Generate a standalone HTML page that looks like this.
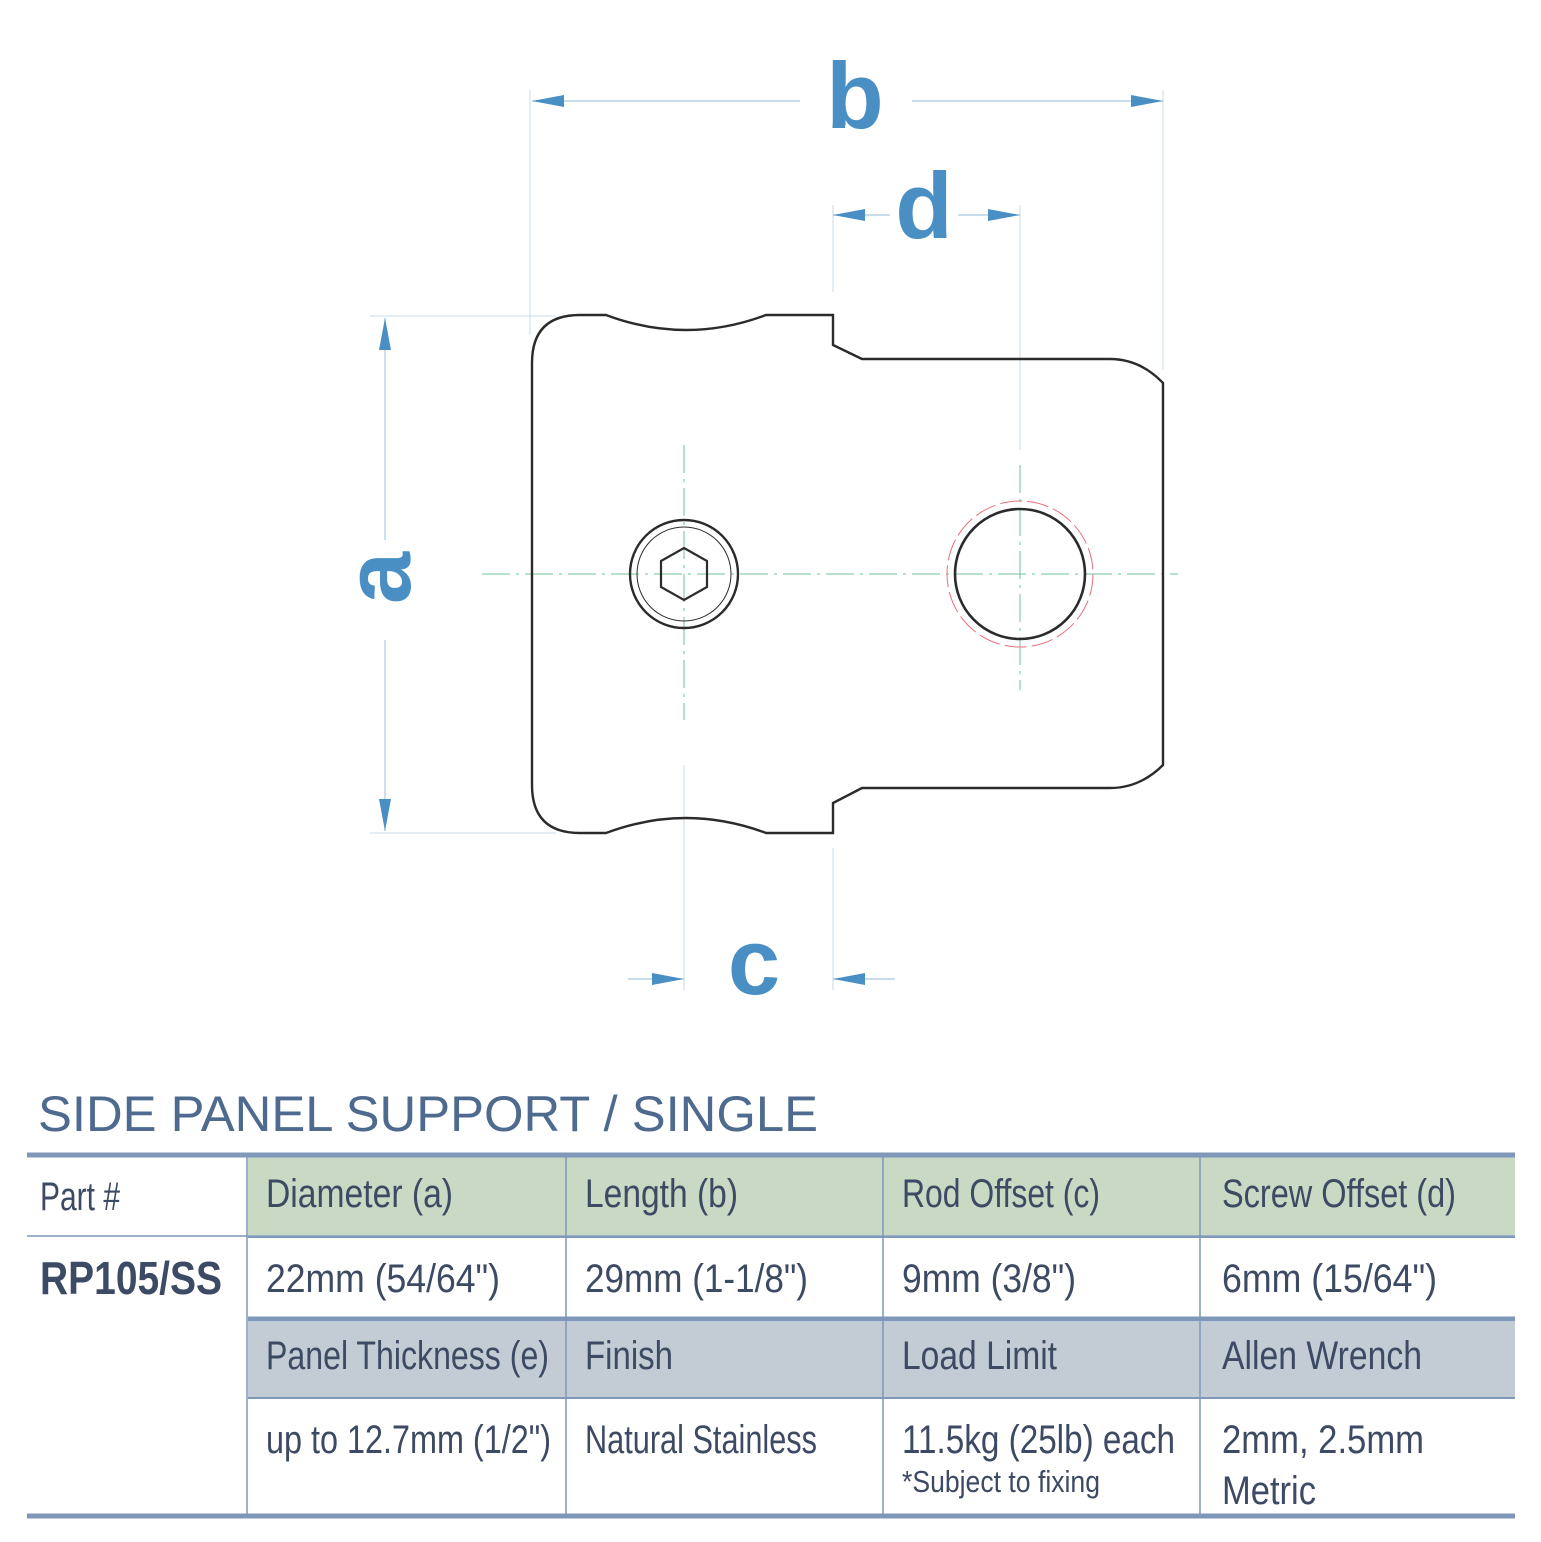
<!DOCTYPE html>
<html><head><meta charset="utf-8"><style>
html,body{margin:0;padding:0;background:#fff;}
svg{display:block}
.t{font-family:"Liberation Sans",sans-serif;fill:#3d4a63;}
</style></head><body>
<svg width="1541" height="1542" viewBox="0 0 1541 1542" xmlns="http://www.w3.org/2000/svg">
<g stroke="#c9dbe8" stroke-width="1" fill="none">
<line x1="530" y1="90" x2="530" y2="335"/>
<line x1="1163" y1="90" x2="1163" y2="370"/>
<line x1="833" y1="205" x2="833" y2="292"/>
<line x1="1020" y1="205" x2="1020" y2="450"/>
<line x1="370" y1="316" x2="556" y2="316"/>
<line x1="370" y1="833" x2="556" y2="833"/>
<line x1="684" y1="765" x2="684" y2="990"/>
<line x1="833" y1="848" x2="833" y2="990"/>
</g>
<g stroke="#a9c8de" stroke-width="1.2" fill="none">
<line x1="532" y1="101" x2="800" y2="101"/><line x1="912" y1="101" x2="1163" y2="101"/>
<line x1="833" y1="215" x2="890" y2="215"/><line x1="958" y1="215" x2="1020" y2="215"/>
<line x1="385" y1="318" x2="385" y2="540"/><line x1="385" y1="640" x2="385" y2="831"/>
<line x1="628" y1="979" x2="684" y2="979"/><line x1="833" y1="979" x2="895" y2="979"/>
</g>
<g fill="#4a8fc4">
<polygon points="532,101 564,95 564,107"/><polygon points="1163,101 1131,95 1131,107"/>
<polygon points="833,215 865,209 865,221"/><polygon points="1020,215 988,209 988,221"/>
<polygon points="385,318 379,350 391,350"/><polygon points="385,831 379,799 391,799"/>
<polygon points="684,979 652,973 652,985"/><polygon points="833,979 865,973 865,985"/>
</g>
<g font-family="'Liberation Sans',sans-serif" font-weight="bold" fill="#4a8fc4" font-size="94">
<text x="855" y="128" text-anchor="middle">b</text>
<text x="924" y="238" text-anchor="middle">d</text>
<text x="754" y="994" text-anchor="middle">c</text>
<text x="0" y="0" text-anchor="middle" transform="translate(410,578) rotate(-90)">a</text>
</g>
<g stroke="#6cc49a" stroke-width="1" fill="none" stroke-dasharray="28,6,3,6">
<line x1="482" y1="574" x2="1178" y2="574"/>
<line x1="684" y1="445" x2="684" y2="720"/>
<line x1="1020" y1="465" x2="1020" y2="690"/>
</g>
<path d="M580,315 L606,315 Q686,345 766,315 L833,315 L833,345 L862,359 L1110,359 Q1140,359 1163,383 L1163,765 Q1140,788 1110,788 L862,788 L833,803 L833,833 L766,833 Q686,803 606,833 L580,833 Q532,833 532,785 L532,363 Q532,315 580,315 Z" fill="none" stroke="#2b2b2b" stroke-width="2.4"/>
<circle cx="684" cy="574" r="54" fill="none" stroke="#2b2b2b" stroke-width="2.4"/>
<circle cx="684" cy="574" r="47" fill="none" stroke="#2b2b2b" stroke-width="1"/>
<polygon points="684,548 707,561 707,587 684,600 661,587 661,561" fill="none" stroke="#2b2b2b" stroke-width="2.2"/>
<circle cx="1020" cy="574" r="65" fill="none" stroke="#2b2b2b" stroke-width="2.6"/>
<circle cx="1020" cy="574" r="73" fill="none" stroke="#e8707a" stroke-width="1" stroke-dasharray="22,5"/>
<text x="38" y="1131" font-family="'Liberation Sans',sans-serif" font-size="50" fill="#4e6a8e" textLength="780" lengthAdjust="spacingAndGlyphs">SIDE PANEL SUPPORT / SINGLE</text>
<rect x="248" y="1157" width="1267" height="78" fill="#c9d9c4"/>
<rect x="248" y="1322" width="1267" height="75" fill="#c3ccd5"/>
<g stroke="#7f97b8" fill="none">
<line x1="27" y1="1155" x2="1515" y2="1155" stroke-width="5"/>
<line x1="27" y1="1236" x2="1515" y2="1236" stroke-width="1.5"/>
<line x1="248" y1="1237" x2="1515" y2="1237" stroke-width="2"/>
<line x1="248" y1="1319" x2="1515" y2="1319" stroke-width="5"/>
<line x1="248" y1="1398" x2="1515" y2="1398" stroke-width="2"/>
<line x1="27" y1="1516" x2="1515" y2="1516" stroke-width="5"/>
<line x1="247" y1="1157" x2="247" y2="1514" stroke-width="1.5"/>
<line x1="566" y1="1157" x2="566" y2="1514" stroke-width="1.5"/>
<line x1="883" y1="1157" x2="883" y2="1514" stroke-width="1.5"/>
<line x1="1200" y1="1157" x2="1200" y2="1514" stroke-width="1.5"/>
</g>
<g class="t" font-size="40" lengthAdjust="spacingAndGlyphs">
<text x="40" y="1210" textLength="80" lengthAdjust="spacingAndGlyphs">Part #</text>
<text x="266" y="1207" textLength="187" lengthAdjust="spacingAndGlyphs">Diameter (a)</text>
<text x="585" y="1207" textLength="153" lengthAdjust="spacingAndGlyphs">Length (b)</text>
<text x="902" y="1207" textLength="198" lengthAdjust="spacingAndGlyphs">Rod Offset (c)</text>
<text x="1222" y="1207" textLength="234" lengthAdjust="spacingAndGlyphs">Screw Offset (d)</text>
<text x="40" y="1294" font-weight="bold" font-size="46" textLength="182" lengthAdjust="spacingAndGlyphs">RP105/SS</text>
<text x="266" y="1292" textLength="234" lengthAdjust="spacingAndGlyphs">22mm (54/64")</text>
<text x="585" y="1292" textLength="223" lengthAdjust="spacingAndGlyphs">29mm (1-1/8")</text>
<text x="902" y="1292" textLength="174" lengthAdjust="spacingAndGlyphs">9mm (3/8")</text>
<text x="1222" y="1292" textLength="215" lengthAdjust="spacingAndGlyphs">6mm (15/64")</text>
<text x="266" y="1369" textLength="283" lengthAdjust="spacingAndGlyphs">Panel Thickness (e)</text>
<text x="585" y="1369" textLength="88" lengthAdjust="spacingAndGlyphs">Finish</text>
<text x="902" y="1369" textLength="155" lengthAdjust="spacingAndGlyphs">Load Limit</text>
<text x="1222" y="1369" textLength="200" lengthAdjust="spacingAndGlyphs">Allen Wrench</text>
<text x="266" y="1453" textLength="285" lengthAdjust="spacingAndGlyphs">up to 12.7mm (1/2")</text>
<text x="585" y="1453" textLength="232" lengthAdjust="spacingAndGlyphs">Natural Stainless</text>
<text x="902" y="1453" textLength="273" lengthAdjust="spacingAndGlyphs">11.5kg (25lb) each</text>
<text x="902" y="1492" font-size="31" textLength="198" lengthAdjust="spacingAndGlyphs">*Subject to fixing</text>
<text x="1222" y="1453" textLength="202" lengthAdjust="spacingAndGlyphs">2mm, 2.5mm</text>
<text x="1222" y="1504" textLength="94" lengthAdjust="spacingAndGlyphs">Metric</text>
</g>
</svg>
</body></html>
